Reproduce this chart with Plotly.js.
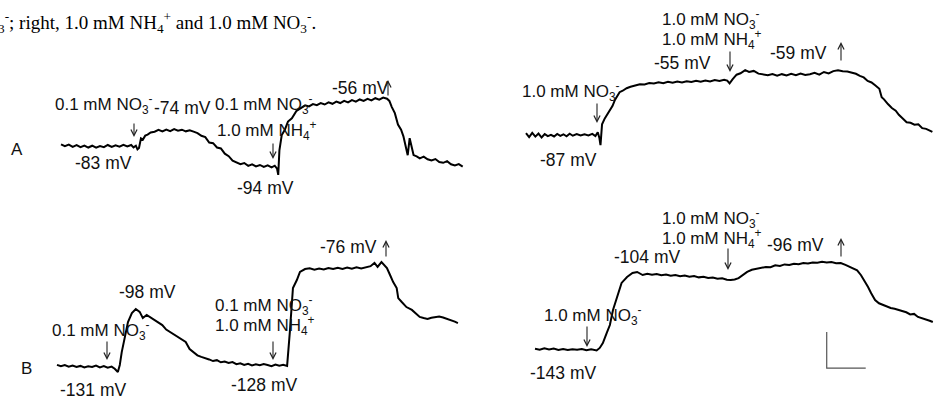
<!DOCTYPE html>
<html>
<head>
<meta charset="utf-8">
<script src="https://cdn.plot.ly/plotly-3.0.1.min.js"></script>
<style>html,body{margin:0;padding:0;background:#fff}#chart{width:934px;height:396px}</style>
</head>
<body>
<div id="chart"></div>
<script>
// ---------- DATA (time in min, membrane potential in mV) ----------
// Panel A (left top): 0.1 mM NO3- then 0.1 mM NO3- + 1.0 mM NH4+
const tA = [
  0,0.5,1,1.5,2,2.5,3,3.5,4,4.5,
  5,5.5,6,6.5,7,7.5,8,8.5,9,9.3,
  9.6,9.8,10.0,10.25,10.5,10.8,11.1,11.5,12,12.5,
  13,13.5,14,14.5,15,15.5,16,16.5,17,17.5,
  18,18.5,19,19.5,20,20.5,21,21.5,22,22.5,
  23,23.5,24,24.5,25,25.5,26,26.5,27,27.4,
  27.7,27.85,28.0,28.3,28.7,29.1,29.6,30.2,30.8,31.3,
  31.8,32.3,32.8,33.3,33.8,34.3,34.8,35.3,35.8,36.3,
  36.8,37.3,37.8,38.3,38.8,39.3,39.8,40.3,40.8,41.3,
  41.8,42.1,42.4,42.8,43.2,43.6,43.9,44.2,44.45,44.7,
  44.95,45.2,45.6,46.0,46.5,47.0,47.5,48.0,48.5,49.0,
  49.5,50.0,50.5,51.0,51.5];
const vA = [
  -82.6,-83.7,-82.8,-84.0,-83.1,-84.2,-83.3,-84.4,-83.4,-84.5,
  -83.6,-84.2,-83.0,-84.1,-83.2,-83.9,-82.9,-83.8,-83.0,-84.3,
  -83.4,-85.4,-84.6,-79.3,-80.0,-77.8,-77.2,-76.0,-75.6,-74.6,
  -75.5,-74.4,-75.3,-74.2,-75.1,-74.5,-75.4,-74.8,-75.6,-76.4,
  -77.9,-78.6,-81.6,-82.0,-84.4,-84.9,-87.8,-89.2,-91.7,-92.6,
  -93.7,-93.0,-94.6,-93.7,-94.9,-94.1,-95.2,-94.3,-95.4,-94.5,
  -96.2,-99.6,-86.0,-77.5,-74.5,-70.0,-68.2,-64.0,-62.6,-61.0,
  -61.6,-60.3,-60.9,-59.7,-60.5,-59.3,-60.1,-58.9,-59.7,-58.5,
  -59.3,-58.1,-58.9,-57.7,-58.5,-57.4,-58.2,-57.0,-57.8,-56.7,
  -57.3,-58.5,-61.8,-65.3,-71.6,-74.5,-78.2,-83.5,-88.7,-79.2,
  -84.0,-88.6,-89.3,-90.4,-89.5,-90.9,-91.6,-90.8,-92.5,-92.9,
  -92.0,-93.7,-94.4,-93.6,-95.0];

// Panel right top: 1.0 mM NO3- then 1.0 mM NO3- + 1.0 mM NH4+
const tC = [
  0,0.4,0.8,1.2,1.6,2.0,2.4,2.8,3.2,3.6,
  4.0,4.4,4.8,5.2,5.6,6.0,6.5,7.0,7.5,8.0,
  8.5,8.9,9.2,9.4,9.55,9.75,10.1,10.4,10.8,11.1,
  11.4,11.7,12.0,12.4,12.9,13.4,14.0,14.6,15.2,15.8,
  16.4,17.0,17.6,18.2,18.8,19.4,20.0,20.6,21.2,21.8,
  22.4,23.0,23.6,24.2,24.8,25.4,25.8,26.1,26.5,27.0,
  27.5,28.1,28.6,29.2,29.8,30.4,31.0,31.6,32.2,32.8,
  33.4,34.0,34.6,35.2,35.8,36.4,37.0,37.6,38.2,38.8,
  39.4,40.0,40.6,41.2,41.8,42.3,42.8,43.3,43.8,44.3,
  44.8,45.3,45.6,45.9,46.4,46.9,47.4,47.8,48.3,48.8,
  49.3,49.8,50.3,50.8,51.3,51.8,52.1];
const vC = [
  -86.0,-88.2,-85.8,-87.9,-86.2,-88.4,-86.5,-87.6,-86.9,-87.8,
  -86.4,-87.5,-86.6,-87.7,-86.3,-87.4,-86.5,-87.3,-86.6,-87.2,
  -86.4,-87.6,-85.5,-88.5,-92.6,-81.0,-77.8,-75.5,-73.0,-70.8,
  -67.5,-65.0,-63.2,-62.4,-61.0,-60.2,-59.6,-58.8,-58.9,-58.1,
  -58.4,-57.7,-58.2,-57.4,-58.0,-57.3,-57.8,-57.1,-57.6,-56.9,
  -57.4,-56.7,-57.2,-56.5,-57.0,-56.3,-56.8,-58.3,-56.0,-53.5,
  -52.7,-51.0,-52.0,-51.4,-52.9,-53.4,-53.8,-53.1,-54.0,-53.2,
  -53.9,-53.0,-53.8,-52.9,-53.6,-53.2,-52.5,-53.5,-52.0,-52.8,
  -51.5,-51.0,-51.6,-51.7,-52.3,-53.0,-54.2,-55.0,-57.0,-57.8,
  -59.5,-61.3,-66.0,-67.2,-69.8,-72.0,-73.5,-75.8,-77.8,-79.9,
  -80.2,-81.3,-81.0,-83.2,-83.6,-84.8,-85.3];

// Panel B (left bottom)
const tB = [
  0,0.5,1,1.5,2,2.5,3,3.5,4,4.5,
  5,5.5,6,6.5,7,7.4,7.8,8.05,8.3,8.7,
  9.1,9.6,10.1,10.6,11.0,11.5,12.0,12.5,13.0,13.5,
  14.0,14.5,15.0,15.5,16.0,16.5,17.0,17.5,18.0,18.5,
  19.0,19.5,20.0,20.5,21.0,21.5,22.0,22.5,23.0,23.5,
  24.0,24.5,25.0,25.5,26.0,26.5,27.0,27.5,28.0,28.5,
  29.0,29.5,29.85,30.25,30.75,31.15,31.8,32.4,33.0,33.6,
  34.2,34.8,35.4,36.0,36.6,37.2,37.8,38.4,39.0,39.6,
  40.2,40.7,41.1,41.6,42.0,42.3,42.7,43.1,43.55,43.75,
  44.2,44.8,45.5,46.0,46.5,47.0,47.5,48.0,48.5,49.0,
  49.5,50.0,50.5,51.0,51.4];
const vB = [
  -129.8,-130.6,-129.9,-130.8,-130.2,-131.0,-130.4,-131.3,-130.6,-131.0,
  -130.2,-131.2,-130.5,-131.4,-130.8,-132.0,-133.8,-129.9,-122.7,-113.2,
  -106.0,-101.0,-98.8,-100.4,-103.8,-102.1,-103.5,-104.9,-106.5,-107.7,
  -110.2,-111.6,-112.8,-114.3,-115.5,-117.1,-121.0,-122.7,-124.5,-125.4,
  -126.0,-126.8,-127.7,-127.2,-128.4,-128.0,-128.8,-128.3,-129.4,-128.9,
  -129.9,-129.2,-130.1,-129.5,-130.0,-129.4,-129.9,-130.5,-129.6,-130.3,
  -129.8,-130.4,-111.6,-87.1,-82.7,-78.2,-76.6,-76.2,-76.9,-76.3,
  -76.8,-76.0,-76.6,-75.9,-76.5,-75.8,-76.4,-75.6,-76.2,-75.5,
  -75.0,-73.2,-75.4,-72.7,-74.5,-76.0,-79.9,-83.8,-87.1,-92.7,
  -94.9,-97.7,-99.3,-101.5,-103.2,-103.8,-104.3,-103.6,-103.2,-103.0,
  -103.5,-104.2,-105.0,-105.8,-106.6];

// Panel right bottom
const tD = [
  0,0.6,1.2,1.8,2.4,3.0,3.6,4.2,4.8,5.4,
  6.0,6.6,7.2,7.9,8.3,8.7,9.2,9.6,10.0,10.5,
  11.1,11.8,12.5,13.1,13.8,14.4,15.0,15.6,16.2,16.8,
  17.4,18.0,18.6,19.2,19.8,20.4,21.0,21.6,22.2,22.8,
  23.4,24.0,24.6,25.1,25.6,26.1,26.6,27.2,27.8,28.4,
  29.0,29.6,30.2,30.8,31.4,32.0,32.6,33.2,33.8,34.4,
  35.0,35.6,36.2,36.8,37.4,38.0,38.6,39.2,39.8,40.3,
  40.8,41.3,41.8,42.3,42.7,43.1,43.6,44.1,44.6,45.1,
  45.6,46.1,46.6,47.1,47.6,48.1,48.6,49.1,49.6,50.1,
  50.6,51.0];
const vD = [
  -142.9,-143.4,-142.6,-143.3,-142.8,-143.5,-143.0,-143.6,-143.1,-143.4,
  -143.0,-143.7,-143.2,-143.8,-142.4,-139.7,-134.1,-129.7,-121.3,-114.1,
  -106.3,-103.0,-100.8,-100.2,-101.9,-101.2,-101.8,-101.3,-102.0,-101.6,
  -102.3,-101.9,-102.6,-102.2,-102.9,-102.5,-103.2,-102.9,-103.6,-103.3,
  -104.0,-103.7,-104.5,-104.7,-104.4,-103.6,-102.0,-100.2,-99.0,-98.6,
  -98.0,-97.4,-97.6,-96.5,-96.9,-96.0,-96.3,-95.6,-95.9,-95.2,
  -95.5,-94.9,-95.1,-94.6,-95.0,-94.7,-95.3,-95.2,-96.3,-97.4,
  -98.5,-99.3,-102.0,-105.5,-108.6,-112.0,-115.8,-117.6,-118.6,-119.4,
  -120.2,-120.6,-121.3,-122.1,-122.6,-123.8,-123.5,-125.2,-125.8,-126.6,
  -127.3,-128.0];

// Scale bar (20 mV, 5 min) drawn in right-bottom panel
const scaleT = [37.4, 37.4, 42.4];
const scaleV = [-133.6, -153.6, -153.6];

// Text labels
const NO3 = 'NO<sub>3</sub><sup>-</sup>';
const NH4 = 'NH<sub>4</sub><sup>+</sup>';
const caption = '<sub>3</sub><sup>-</sup>; right, 1.0 mM ' + NH4 + ' and 1.0 mM ' + NO3 + '.';

// ---------- LAYOUT HELPERS ----------
const W = 934, H = 396;
const SX = 7.8, SY = 1.8; // px per min, px per mV
function axes(x0, yb, vb, L, R, T, B) {
  const common = {visible: false, showgrid: false, zeroline: false, fixedrange: true};
  return {
    x: Object.assign({}, common, {domain: [L / W, R / W], range: [(L - x0) / SX, (R - x0) / SX]}),
    y: Object.assign({}, common, {domain: [1 - B / H, 1 - T / H], range: [vb - (B - yb) / SY, vb + (yb - T) / SY]})
  };
}
const pA = axes(61, 145, -83, 40, 470, 60, 200);
const pC = axes(526, 135, -87, 500, 934, 10, 190);
const pB = axes(57, 367, -131, 40, 470, 220, 396);
const pD = axes(535, 349, -143, 500, 934, 200, 396);

const line = {color: '#000', width: 2};
const traces = [
  {x: tA, y: vA, xaxis: 'x', yaxis: 'y', mode: 'lines', line: line, hoverinfo: 'skip'},
  {x: tC, y: vC, xaxis: 'x2', yaxis: 'y2', mode: 'lines', line: line, hoverinfo: 'skip'},
  {x: tB, y: vB, xaxis: 'x3', yaxis: 'y3', mode: 'lines', line: line, hoverinfo: 'skip'},
  {x: tD, y: vD, xaxis: 'x4', yaxis: 'y4', mode: 'lines', line: line, hoverinfo: 'skip'},
  {x: scaleT, y: scaleV, xaxis: 'x4', yaxis: 'y4', mode: 'lines', line: {color: '#555', width: 1.2}, hoverinfo: 'skip'}
];

const ann = [];
const SANS = 'Liberation Sans, Arial, sans-serif';
function lab(text, x, y, size) {
  ann.push({text: text, x: x / W, y: 1 - y / H, xref: 'paper', yref: 'paper', xanchor: 'left', yanchor: 'middle',
    showarrow: false, font: {family: SANS, size: size, color: '#111'}});
}
function arrow(x, head, tail) {
  ann.push({text: '', x: x / W, y: 1 - head / H, xref: 'paper', yref: 'paper', showarrow: true,
    ax: 0, ay: tail - head, arrowhead: 5, arrowsize: 1.1, arrowwidth: 1.1, arrowcolor: '#222',
    standoff: 0, startstandoff: 0, font: {size: 1}});
}
const C = 17, M = 17.5;
// caption
ann.push({text: caption, x: -4 / W, y: 1 - 22 / H, xref: 'paper', yref: 'paper', xanchor: 'left', yanchor: 'middle',
  showarrow: false, font: {family: 'Liberation Serif, Times New Roman, serif', size: 19, color: '#000'}});
// Panel A
lab('A', 9, 149, 17);
lab('0.1 mM ' + NO3, 53, 104, C); arrow(134, 137, 122);
lab('-74 mV', 152, 108, M);
lab('0.1 mM ' + NO3, 213, 104, C);
lab('1.0 mM ' + NH4, 215, 130, C); arrow(273, 159, 142);
lab('-83 mV', 73, 163, M);
lab('-94 mV', 235, 188, M);
lab('-56 mV', 330, 88, M); arrow(388, 80, 97);
// Panel right top
lab('1.0 mM ' + NO3, 660, 20, C);
lab('1.0 mM ' + NH4, 660, 40, C); arrow(730, 72, 50);
lab('-55 mV', 652, 63, M);
lab('-59 mV', 768, 53, M); arrow(841, 42, 62);
lab('1.0 mM ' + NO3, 520, 92, C); arrow(597, 123, 102);
lab('-87 mV', 538, 160, M);
// Panel B
lab('B', 19, 368, 17);
lab('0.1 mM ' + NO3, 50, 330, C); arrow(107, 360, 340);
lab('-98 mV', 117, 292, M);
lab('-131 mV', 58, 390, M);
lab('0.1 mM ' + NO3, 213, 305, C);
lab('1.0 mM ' + NH4, 213, 325, C); arrow(273, 360, 340);
lab('-128 mV', 229, 385, M);
lab('-76 mV', 318, 247, M); arrow(386, 240, 258);
// Panel right bottom
lab('1.0 mM ' + NO3, 660, 218, C);
lab('1.0 mM ' + NH4, 660, 238, C); arrow(728, 270, 247);
lab('-104 mV', 612, 257, M);
lab('-96 mV', 765, 245, M); arrow(841, 238, 258);
lab('1.0 mM ' + NO3, 542, 315, C); arrow(587, 347, 325);
lab('-143 mV', 528, 373, M);

const layout = {
  width: W, height: H, margin: {l: 0, r: 0, t: 0, b: 0},
  paper_bgcolor: '#fff', plot_bgcolor: 'rgba(0,0,0,0)', showlegend: false,
  xaxis: Object.assign({anchor: 'y'}, pA.x), yaxis: Object.assign({anchor: 'x'}, pA.y),
  xaxis2: Object.assign({anchor: 'y2'}, pC.x), yaxis2: Object.assign({anchor: 'x2'}, pC.y),
  xaxis3: Object.assign({anchor: 'y3'}, pB.x), yaxis3: Object.assign({anchor: 'x3'}, pB.y),
  xaxis4: Object.assign({anchor: 'y4'}, pD.x), yaxis4: Object.assign({anchor: 'x4'}, pD.y),
  annotations: ann
};
Plotly.newPlot('chart', traces, layout, {staticPlot: true, displayModeBar: false});
</script>
</body>
</html>
